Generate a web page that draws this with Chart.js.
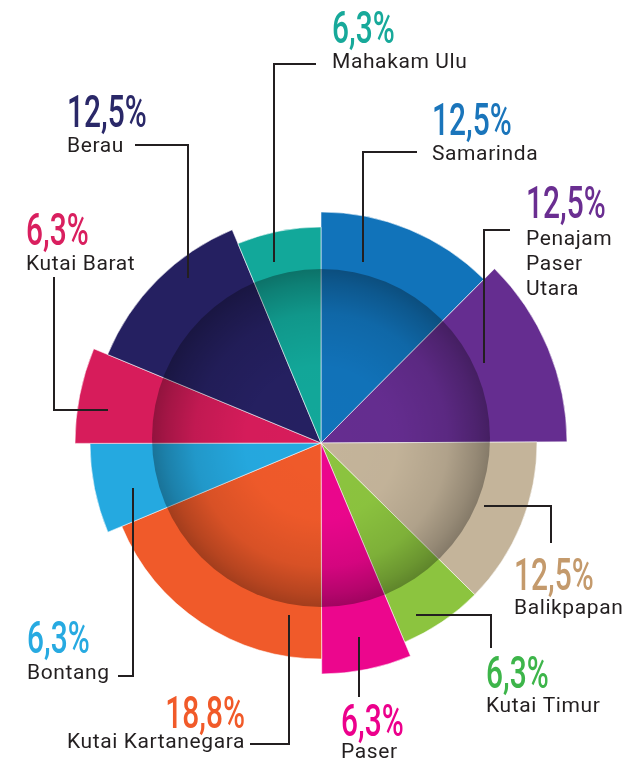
<!DOCTYPE html>
<html>
<head>
<meta charset="utf-8">
<script src="https://cdn.jsdelivr.net/npm/chart.js@4.4.0/dist/chart.umd.min.js"></script>
<style>
  html, body { margin: 0; padding: 0; background: #fff; }
  #wrap { position: relative; width: 624px; height: 763px; }
</style>
</head>
<body>
<div id="wrap"><canvas id="chart"></canvas></div>
<script>
// --- datos (en sentido horario desde las 12) ---
const regions = ['Samarinda', 'Penajam Paser Utara', 'Balikpapan', 'Kutai Timur', 'Paser',
                 'Kutai Kartanegara', 'Bontang', 'Kutai Barat', 'Berau', 'Mahakam Ulu'];
const nameLines = [['Samarinda'], ['Penajam', 'Paser', 'Utara'], ['Balikpapan'], ['Kutai Timur'], ['Paser'],
                   ['Kutai Kartanegara'], ['Bontang'], ['Kutai Barat'], ['Berau'], ['Mahakam Ulu']];
const shares = [12.5, 12.5, 12.5, 6.3, 6.3, 18.8, 6.3, 6.3, 12.5, 6.3];
const shareLabels = ['12,5%', '12,5%', '12,5%', '6,3%', '6,3%', '18,8%', '6,3%', '6,3%', '12,5%', '6,3%'];
// largo de cada rebanada (decorativo)
const radiusValues = [231, 246, 216, 216, 231, 216, 231, 246, 231, 216];
const radiusMax = 246;

const sliceColors = ['#1173ba', '#652d90', '#c4b49a', '#8cc43f', '#ec068d',
                     '#f05a2a', '#25a9e0', '#d71c5b', '#252061', '#12a89a'];
const labelColors = ['#1a75bb', '#6a2e91', '#c49a6c', '#3db54a', '#ec008c',
                     '#f15a29', '#27aae1', '#d91f5f', '#2a2868', '#17a99a'];

const totalShare = shares.reduce((a, b) => a + b, 0);

// --- posiciones de etiquetas y líneas guía ---
const labelLayout = [
  { x: 432, pctY: 135, nameY: 160, align: 'left',  line: [[417,152],[363,152],[363,262]] },
  { x: 526, pctY: 218, nameY: 245, align: 'left',  line: [[510,230],[484,230],[484,363]] },
  { x: 514, pctY: 590, nameY: 614, align: 'left',  line: [[484,506],[551,506],[551,543]] },
  { x: 486, pctY: 688, nameY: 712, align: 'left',  line: [[416,615],[491,615],[491,648]] },
  { x: 341, pctY: 736, nameY: 758, align: 'left',  line: [[359,637],[359,697]] },
  { x: 245, pctY: 728, nameY: 748, align: 'right', line: [[289,615],[289,744],[250,744]] },
  { x: 27,  pctY: 653, nameY: 679, align: 'left',  line: [[133,488],[133,676],[118,676]] },
  { x: 26,  pctY: 245, nameY: 270, align: 'left',  line: [[54,277],[54,410],[108,410]] },
  { x: 67,  pctY: 127, nameY: 152, align: 'left',  line: [[135,145],[188,145],[188,278]] },
  { x: 332, pctY: 43,  nameY: 68,  align: 'left',  line: [[316,64],[274,64],[274,262]] }
];

// Círculo oscuro central con degradado
const overlayPlugin = {
  id: 'overlay',
  afterDatasetsDraw(chart) {
    const r = chart.scales.r;
    const ctx = chart.ctx;
    const cx = r.xCenter, cy = r.yCenter - 5;
    const rad = r.drawingArea * 0.687;
    const g = ctx.createRadialGradient(cx, cy + 8, 0, cx, cy, rad);
    g.addColorStop(0, 'rgba(0,0,0,0)');
    g.addColorStop(0.45, 'rgba(0,0,0,0.01)');
    g.addColorStop(0.75, 'rgba(0,0,0,0.1)');
    g.addColorStop(0.92, 'rgba(0,0,0,0.24)');
    g.addColorStop(1, 'rgba(0,0,0,0.32)');
    ctx.save();
    ctx.beginPath();
    ctx.arc(cx, cy, rad, 0, Math.PI * 2);
    ctx.fillStyle = g;
    ctx.fill();
    ctx.restore();
  }
};

// Etiquetas con líneas guía
const labelsPlugin = {
  id: 'leaderLabels',
  afterDraw(chart) {
    const ctx = chart.ctx;
    ctx.save();
    labelLayout.forEach((lay, i) => {
      // línea guía
      ctx.beginPath();
      lay.line.forEach(([px, py], k) => k ? ctx.lineTo(px, py) : ctx.moveTo(px, py));
      ctx.strokeStyle = '#231f20';
      ctx.lineWidth = 2;
      ctx.lineJoin = 'miter';
      ctx.stroke();

      // porcentaje (condensado)
      ctx.save();
      ctx.translate(lay.x, lay.pctY);
      ctx.scale(0.68, 1);
      ctx.font = '500 44px Roboto';
      ctx.fillStyle = labelColors[i];
      ctx.textAlign = lay.align;
      ctx.textBaseline = 'alphabetic';
      ctx.fillText(shareLabels[i], 0, 0);
      ctx.restore();

      // nombre
      ctx.font = '400 21px Roboto';
      ctx.letterSpacing = '0.6px';
      ctx.fillStyle = '#231f20';
      ctx.textAlign = lay.align;
      nameLines[i].forEach((t, k) => {
        ctx.fillText(t, lay.x, lay.nameY + k * 25);
      });
      ctx.letterSpacing = '0px';
    });
    ctx.restore();
  }
};

const ctx = document.getElementById('chart').getContext('2d');
new Chart(ctx, {
  type: 'polarArea',
  data: {
    labels: regions,
    datasets: [{
      data: radiusValues,
      backgroundColor: sliceColors,
      borderColor: 'rgba(255,255,255,0.55)',
      borderWidth: 1,
      angle: c => shares[c.dataIndex] / totalShare * 360
    }]
  },
  options: {
    responsive: true,
    maintainAspectRatio: false,
    animation: false,
    layout: { padding: { left: 75, right: 57, top: 197, bottom: 74 } },
    plugins: {
      legend: { display: false },
      tooltip: { enabled: false }
    },
    scales: {
      r: { display: false, min: 0, max: radiusMax, startAngle: 0 }
    }
  },
  plugins: [overlayPlugin, labelsPlugin]
});
</script>
</body>
</html>
